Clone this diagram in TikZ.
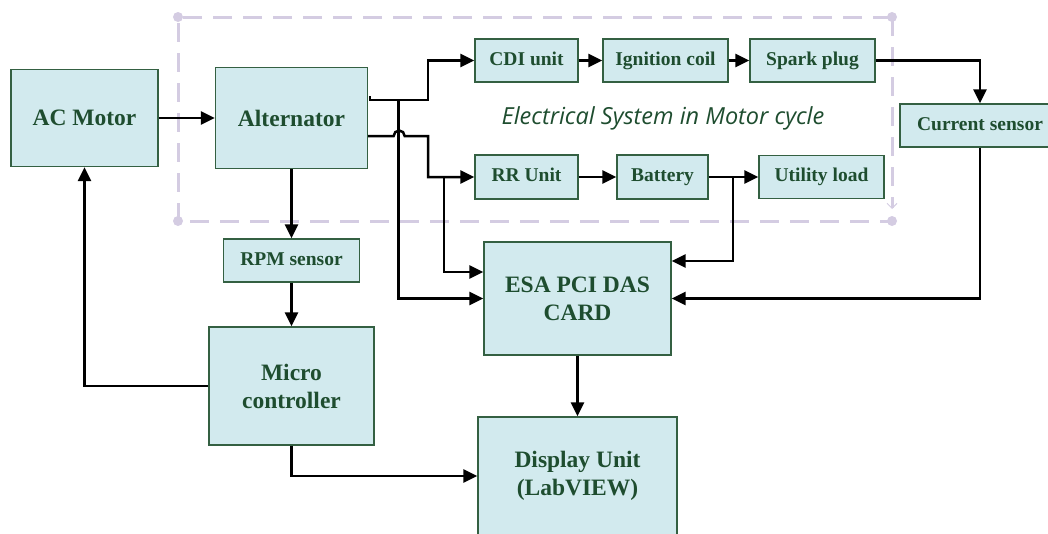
\documentclass[tikz,border=0pt]{standalone}
\usepackage{fontspec}
\setmainfont{Liberation Serif}
\newfontfamily\lblfont{Open Sans}
\usetikzlibrary{arrows.meta}
\definecolor{boxfill}{RGB}{210,234,238}
\definecolor{boxline}{RGB}{52,96,66}
\definecolor{txtgreen}{RGB}{30,77,47}
\definecolor{dashcol}{RGB}{212,204,226}

\begin{document}
\begin{tikzpicture}[x=1pt, y=-1pt,
  blk/.style={draw=boxline, fill=boxfill, line width=1.3pt, text=txtgreen, inner sep=0pt,
    align=center, font=\bfseries\fontsize{23.5}{28}\selectfont},
  sblk/.style={blk, minimum height=43pt, text height=13pt, text depth=4pt,
    font=\bfseries\fontsize{19.5}{23}\selectfont},
  arr/.style={-{Triangle[length=14pt,width=13pt]}, line width=2.5pt},
  frm/.style={dashcol, line width=3pt, dash pattern=on 19pt off 11pt}
]
  \useasboundingbox (0,0) rectangle (1048,533);
  \coordinate (f1) at (178,17);
  \coordinate (f2) at (892,17);
  \coordinate (f3) at (892,221);
  \coordinate (f4) at (178,221);
  \draw[frm] (f2) -- (f1) -- (f4) -- (f3);
  \draw[frm, -{Straight Barb[length=5pt,width=10pt,line width=1pt]}] (f2) -- ([yshift=12pt]f3);
  \foreach \c in {f1,f2,f3,f4}
    \fill[dashcol] (\c) circle (5pt);

  \node[blk, minimum width=147pt, minimum height=97pt] (acm) at (84.5,118) {AC Motor};
  \node[blk, minimum width=152pt, minimum height=101pt] (alt) at (291.5,118) {Alternator};
  \node[sblk, minimum width=136pt] (rpm) at (291.5,260.5) {RPM sensor};
  \node[blk, minimum width=165pt, minimum height=118pt] (mc) at (291.5,386) {Micro\\controller};
  \node[sblk, minimum width=103pt] (cdi) at (526.5,60.5) {CDI unit};
  \node[sblk, minimum width=125pt] (ign) at (665.5,60.5) {Ignition coil};
  \node[sblk, minimum width=125pt] (spk) at (812.5,60.5) {Spark plug};
  \node[sblk, minimum width=160pt] (cur) at (980,125.5) {Current sensor};
  \node[sblk, minimum width=103pt, minimum height=44pt] (rr) at (526.5,177) {RR Unit};
  \node[sblk, minimum width=91pt, minimum height=44pt] (bat) at (662.5,177) {Battery};
  \node[sblk, minimum width=125pt] (util) at (821.5,177) {Utility load};
  \node[blk, minimum width=187pt, minimum height=113pt] (esa) at (577.5,298.5) {ESA PCI DAS\\CARD};
  \node[blk, minimum width=199pt, minimum height=118pt] (disp) at (577.5,476) {Display Unit\\(LabVIEW)};
  \node[text=txtgreen, font=\lblfont\itshape\fontsize{23.5}{28}\selectfont] (lbl) at (663,118)
    {Electrical System in Motor cycle};

  \coordinate (ja) at (398.5,100);
  \coordinate (jr) at (444,177);
  \coordinate (jb) at (733,177);

  \draw[arr] (acm) -- (alt);
  \draw[arr] (alt) -- (rpm);
  \draw[arr] (rpm) -- (mc);
  \draw[arr] (mc.west) -| (acm.south);
  \draw[arr] (mc) |- (disp);
  \draw[arr] (esa) -- (disp);
  \draw[arr] ([xshift=2pt,yshift=22pt]alt.east) |- ++(58,4) |- (cdi);
  \draw[arr] ([yshift=-18pt]alt.east) -- ++(25.5,0) arc[start angle=180, end angle=0, radius=5.5pt]
    -- ++(23.5,0) |- (rr);
  \draw[arr] (ja) |- (esa);
  \draw[arr] (jr) |- ([yshift=26.5pt]esa.west);
  \draw[arr] (cdi) -- (ign);
  \draw[arr] (ign) -- (spk);
  \draw[arr] (spk) -| (cur);
  \draw[arr] (cur) |- (esa);
  \draw[arr] (rr) -- (bat);
  \draw[arr] (bat) -- (util);
  \draw[arr] (jb) |- ([yshift=37.5pt]esa.east);
\end{tikzpicture}
\end{document}
